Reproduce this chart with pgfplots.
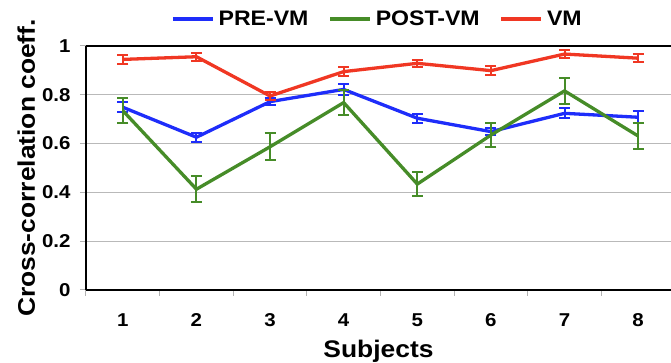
\documentclass[border=0pt]{standalone}
\usepackage{fontspec}
\setmainfont{Liberation Sans}[FakeStretch=1.1]
\usepackage{pgfplots}
\usepackage{pgfplotstable}
\pgfplotsset{compat=1.18}
\usetikzlibrary{calc}

\definecolor{cpre}{RGB}{30,45,250}
\definecolor{cpost}{RGB}{70,140,40}
\definecolor{cvm}{RGB}{240,55,35}

\pgfplotstableread{
x pre preerr post posterr vm vmerr
1 0.749 0.020 0.735 0.050 0.945 0.018
2 0.626 0.018 0.413 0.053 0.956 0.017
3 0.772 0.014 0.587 0.055 0.795 0.017
4 0.822 0.022 0.768 0.050 0.895 0.018
5 0.704 0.018 0.434 0.050 0.929 0.015
6 0.649 0.015 0.635 0.050 0.899 0.017
7 0.724 0.020 0.816 0.053 0.967 0.018
8 0.708 0.025 0.631 0.053 0.950 0.017
}\datatable

\begin{document}
\begin{tikzpicture}
\begin{axis}[
  scale only axis, width=585pt, height=244pt,
  xmin=0.5, xmax=8.446, ymin=0, ymax=1,
  axis x line=box, axis y line=left,
  axis line style={-, black, line width=1.6pt},
  xtick={1,...,8}, minor xtick={0.5,1.5,...,7.5},
  xtick pos=bottom, ytick pos=left,
  major x tick style={draw=none},
  minor x tick style={gray!60, line width=1pt},
  ytick={0,0.2,0.4,0.6,0.8,1},
  yticklabels={0,0.2,0.4,0.6,0.8,1},
  y tick style={gray!60, line width=1pt},
  tick align=outside, major tick length=6pt, minor tick length=6pt,
  ymajorgrids, grid style={gray!55, line width=1pt},
  /pgf/number format/assume math mode=true,
  ticklabel style={font=\bfseries\fontsize{18.6}{18.6}\selectfont},
  xticklabel style={yshift=-14pt},
  yticklabel style={xshift=-6pt},
  xlabel={Subjects},
  ylabel={Cross-correlation coeff.},
  label style={font=\bfseries\fontsize{24}{24}\selectfont},
  xlabel style={yshift=-7pt},
  legend style={at={(0.5,1)}, anchor=center, yshift=27pt, draw=none, fill=none,
    legend columns=3, font=\bfseries\fontsize{21}{21}\selectfont,
    /tikz/every even column/.append style={column sep=16pt},
    nodes={inner xsep=4pt}},
  legend image code/.code={\draw[#1, line width=3.3pt] (0pt,0pt) -- (40pt,0pt);},
  every axis plot/.append style={line width=3.3pt, mark=none},
  error bars/y dir=both, error bars/y explicit,
  error bars/error bar style={line width=2pt},
  error bars/error mark options={rotate=90, mark size=5.5pt, line width=2pt},
  clip=false,
]
\addplot[cpre, error bars/error bar style={cpre, line width=2pt}] table[x=x, y=pre, y error=preerr] {\datatable};
\addlegendentry{PRE-VM}
\addplot[cpost, error bars/error bar style={cpost, line width=2pt}] table[x=x, y=post, y error=posterr] {\datatable};
\addlegendentry{POST-VM}
\addplot[cvm, error bars/error bar style={cvm, line width=2pt}] table[x=x, y=vm, y error=vmerr] {\datatable};
\addlegendentry{VM}
\coordinate (O) at (rel axis cs:0,0);
\end{axis}
\pgfresetboundingbox
\path[use as bounding box] ($(O)+(-86pt,-73pt)$) rectangle ($(O)+(585pt,290pt)$);
\end{tikzpicture}
\end{document}
